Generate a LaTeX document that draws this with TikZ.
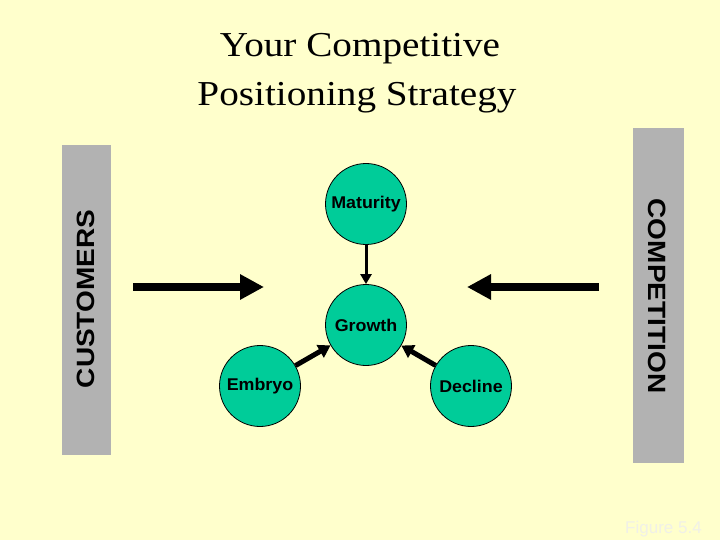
\documentclass[tikz,border=0pt]{standalone}
\usepackage{graphicx}
\usepackage{fontspec}
\setmainfont{Liberation Serif}
\newfontfamily\arialfont{Liberation Sans}
\usetikzlibrary{arrows.meta}
\definecolor{bgyellow}{RGB}{255,255,204}
\definecolor{stage}{RGB}{0,204,153}
\definecolor{bargray}{RGB}{178,178,178}
\definecolor{figtext}{RGB}{240,240,232}
\tikzset{
  stagenode/.style={circle, draw=black, line width=0.8pt, fill=stage, minimum size=81pt, inner sep=0pt,
    font=\arialfont\bfseries\fontsize{17}{20}\selectfont},
  sidebar/.style={fill=bargray, draw=none},
  sidetext/.style={font=\arialfont\bfseries\fontsize{25}{30}\selectfont, inner sep=0pt},
  titletext/.style={font=\fontsize{35}{42}\selectfont, inner sep=0pt, anchor=base},
  smallarrow/.style={line width=3pt, -{Triangle[length=10pt,width=11pt]}},
  midarrow/.style={line width=5pt, -{Triangle[length=12pt,width=14pt]}},
  bigarrow/.style={line width=8pt, -{Triangle[length=24pt,width=24pt]}},
}
\begin{document}
\begin{tikzpicture}[x=1pt,y=-1pt]
\fill[bgyellow] (0,0) rectangle (720,540);
\useasboundingbox (0,0) rectangle (720,540);

% title
\node[titletext] (t1) at (360,57) {\scalebox{1.12}[1]{Your Competitive}};
\node[titletext] (t2) at (357,106) {\scalebox{1.12}[1]{Positioning Strategy}};

% side bars
\fill[sidebar] (62,145) rectangle (111,455);
\fill[sidebar] (633,128) rectangle (684,463);
\node[sidetext, rotate=90] (cust) at (86,299) {\scalebox{1.12}[1]{CUSTOMERS}};
\node[sidetext, rotate=-90] (comp) at (657,296) {\scalebox{1.12}[1]{COMPETITION}};

% stages
\node[stagenode] (mat) at (366,204) {\scalebox{1.05}[1]{Maturity}};
\node[stagenode] (gro) at (366,325) {\scalebox{1.05}[1]{Growth}};
\node[stagenode] (emb) at (260,386) {\scalebox{1.05}[1]{Embryo}};
\node[stagenode] (dec) at (471,386) {\scalebox{1.05}[1]{Decline}};

\draw[smallarrow] (mat) -- (gro);
\draw[midarrow] (emb) -- (gro);
\draw[midarrow] (dec) -- (gro);

% big arrows
\coordinate (ls) at (133,287);
\coordinate (le) at (264,287);
\coordinate (rs) at (599,287);
\coordinate (re) at (467,287);
\draw[bigarrow] (ls) -- (le);
\draw[bigarrow] (rs) -- (re);

% figure label
\node[anchor=base west, inner sep=0pt, text=figtext, font=\arialfont\fontsize{17}{20}\selectfont] (fig) at (625,533) {Figure 5.4};
\end{tikzpicture}
\end{document}
